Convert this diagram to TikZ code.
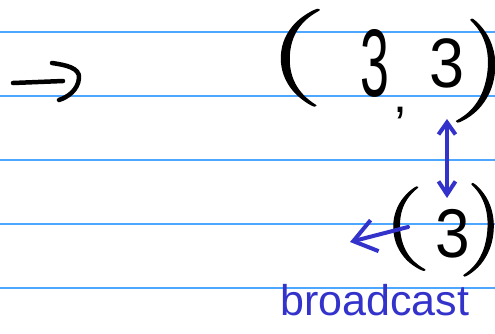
\documentclass[tikz,border=0pt]{standalone}
\usepackage{fontspec}
\usepackage{graphicx}
\XeTeXuseglyphmetrics=1
\newfontfamily\handsans{Liberation Sans}
\newfontfamily\parenfont[FakeBold=1]{Latin Modern Roman}
\usetikzlibrary{arrows.meta}
\definecolor{rulecol}{RGB}{77,166,255}
\definecolor{pencol}{RGB}{51,51,204}
\newcommand{\hparen}[3]{\makebox[#1]{\scalebox{#2}[1]{#3}}}
\begin{document}
\begin{tikzpicture}[x=1pt,y=-1pt,
  ruleline/.style={rulecol,line width=1.5pt},
  glyph/.style={inner sep=0pt,outer sep=0pt,anchor=base},
  pglyph/.style={inner sep=0pt,outer sep=0pt,anchor=center},
  blackpen/.style={line width=4.5pt,line cap=round,line join=round,black},
  bluepen/.style={line width=4pt,line cap=round,line join=round,pencol},
]
\fill[white] (0,0) rectangle (495,333);
\useasboundingbox (0,0) rectangle (495,333);
\foreach \yy in {32,96,160,224,288} \draw[ruleline] (0,\yy) -- (495,\yy);

% left arrow
\coordinate (a1) at (13,83);
\coordinate (a2) at (63,81);
\draw[blackpen] (a1) -- (a2);
\draw[blackpen] (52,63) .. controls (66,65) and (80,68) .. (79,78) .. controls (78,90) and (68,97) .. (59,100);

% (3, 3)
\node[pglyph,rotate=-2,font=\parenfont\fontsize{97}{97}\selectfont] (lp1) at (296,57) {\hparen{30pt}{1.7}{(}};
\node[glyph,font=\handsans\fontsize{96}{96}\selectfont] (d1) at (375,96) {\scalebox{0.54}[1]{3}};
\node[glyph,font=\handsans\fontsize{50}{50}\selectfont] (cm) at (400,112) {,};
\node[glyph,font=\handsans\fontsize{70}{70}\selectfont] (d2) at (447.5,87) {\scalebox{0.9}[1]{3}};
\node[pglyph,rotate=-8,font=\parenfont\fontsize{104}{104}\selectfont] (rp1) at (482,73) {\hparen{20pt}{1.35}{)}};

% (3)
\node[pglyph,rotate=5,font=\parenfont\fontsize{84}{84}\selectfont] (lp2) at (405,230) {\hparen{20pt}{1.5}{(}};
\node[glyph,font=\handsans\fontsize{69}{69}\selectfont] (d3) at (452.5,257) {\scalebox{0.9}[1]{3}};
\node[pglyph,rotate=-5,font=\parenfont\fontsize{93}{93}\selectfont] (rp2) at (483,231) {\hparen{18pt}{1.25}{)}};

% blue double arrow
\coordinate (u1) at (447,119);
\coordinate (u2) at (447,198);
\draw[bluepen,{Straight Barb[length=12pt,width=17pt]}-{Straight Barb[length=13pt,width=17pt]}] (u1) -- (u2);

% blue left arrow
\coordinate (b1) at (408,227);
\coordinate (b2) at (350,242);
\draw[bluepen,-{Straight Barb[length=22pt,width=32pt]}] (b1) -- (b2);

\node[anchor=base west,inner sep=0pt,text=pencol,font=\handsans\fontsize{43}{43}\selectfont] (bc) at (280,315) {broadcast};
\end{tikzpicture}
\end{document}
